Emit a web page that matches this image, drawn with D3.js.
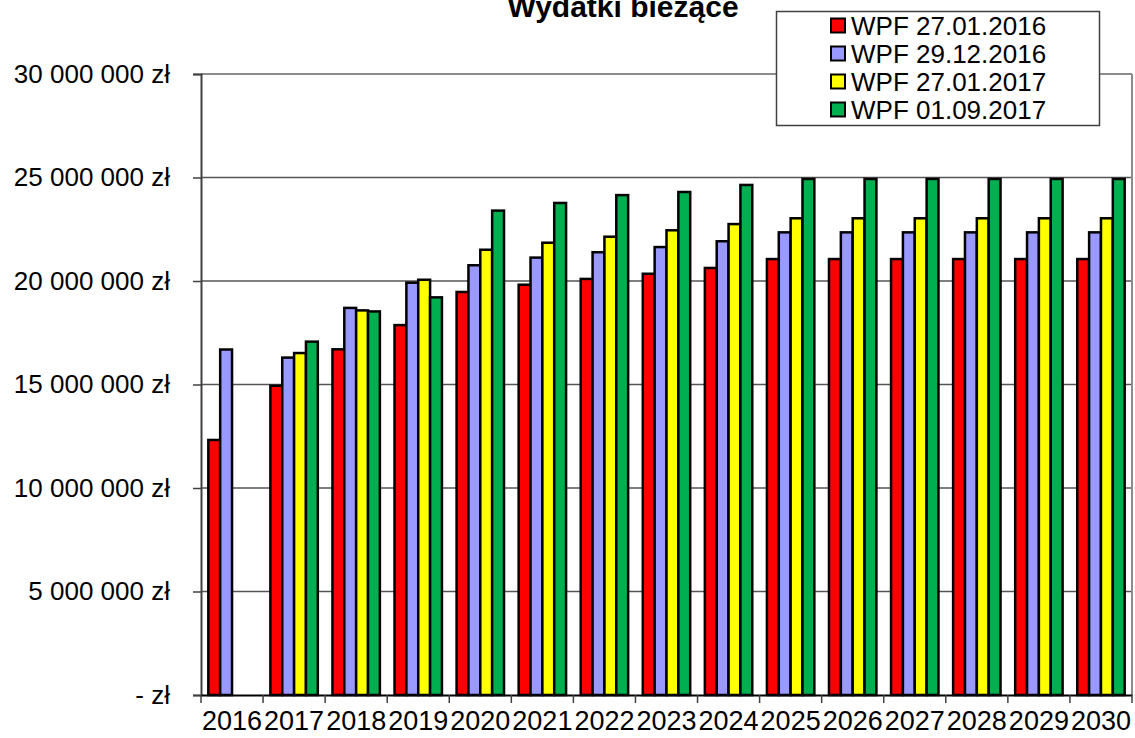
<!DOCTYPE html>
<html>
<head>
<meta charset="utf-8">
<script src="https://cdn.jsdelivr.net/npm/d3@7"></script>
<style>
  body { margin: 0; background: #fff; }
  text { font-family: "Liberation Sans", Arial, sans-serif; }
</style>
</head>
<body>
<div id="chart"></div>
<script>
// chart data
var years = ["2016","2017","2018","2019","2020","2021","2022","2023","2024","2025","2026","2027","2028","2029","2030"]
var seriesNames = ["WPF 27.01.2016", "WPF 29.12.2016", "WPF 27.01.2017", "WPF 01.09.2017"]
var seriesColors = ["#ff0000", "#9999ff", "#ffff00", "#00b050"]

var wpf_2016_01 = [12320000, 14940000, 16700000, 17870000, 19470000, 19820000, 20100000, 20350000, 20630000, 21060000, 21060000, 21060000, 21060000, 21060000, 21060000]
var wpf_2016_12 = [16690000, 16300000, 18700000, 19920000, 20760000, 21130000, 21390000, 21640000, 21920000, 22350000, 22350000, 22350000, 22350000, 22350000, 22350000]
var wpf_2017_01 = [null, 16520000, 18580000, 20060000, 21510000, 21850000, 22140000, 22450000, 22750000, 23030000, 23030000, 23030000, 23030000, 23030000, 23030000]
var wpf_2017_09 = [null, 17070000, 18530000, 19210000, 23400000, 23770000, 24150000, 24300000, 24640000, 24930000, 24930000, 24930000, 24930000, 24930000, 24930000]
var seriesValues = [wpf_2016_01, wpf_2016_12, wpf_2017_01, wpf_2017_09]

var yTicks = [0, 5000000, 10000000, 15000000, 20000000, 25000000, 30000000]

var width = 1135
    height = 738
var plot = {left: 201, right: 1132, top: 74, bottom: 695}

var svg = d3.select("#chart")
  .append("svg")
    .attr("width", width)
    .attr("height", height)

var x0 = d3.scaleBand()
  .domain(years)
  .range([plot.left, plot.right])
  .padding(0)

var bw = x0.bandwidth()
var x1 = d3.scaleBand()
  .domain(d3.range(seriesNames.length))
  .range([bw * 0.118, bw * 0.882])
  .padding(0)

var y = d3.scaleLinear()
  .domain([0, 30000000])
  .range([plot.bottom, plot.top])

var fmt = function(v){
  if (v === 0) return "- zł"
  return d3.format(",")(v).replace(/,/g, " ") + " zł"
}

// gridlines
svg.append("g")
  .selectAll("line")
  .data(yTicks.slice(1))
  .enter()
  .append("line")
    .attr("x1", plot.left)
    .attr("x2", plot.right)
    .attr("y1", d => y(d))
    .attr("y2", d => y(d))
    .attr("stroke", d => d === 30000000 ? "#8c8c8c" : "#555")
    .attr("stroke-width", d => d === 30000000 ? 2 : 1.5)

// right border
svg.append("line")
  .attr("x1", plot.right).attr("x2", plot.right)
  .attr("y1", plot.top).attr("y2", plot.bottom)
  .attr("stroke", "#8c8c8c")
  .attr("stroke-width", 2)

// bars
var groups = svg.append("g")
  .selectAll("g")
  .data(years)
  .enter()
  .append("g")
    .attr("transform", d => "translate(" + x0(d) + ",0)")

groups.selectAll("rect")
  .data((d, i) => seriesValues.map((s, k) => ({k: k, v: s[i]})).filter(e => e.v != null))
  .enter()
  .append("rect")
    .attr("x", d => x1(d.k))
    .attr("width", x1.bandwidth())
    .attr("y", d => y(d.v))
    .attr("height", d => y(0) - y(d.v))
    .attr("fill", d => seriesColors[d.k])
    .attr("stroke", "#000")
    .attr("stroke-width", 2.5)

// y axis
var yAxis = d3.axisLeft(y)
  .tickValues(yTicks)
  .tickFormat(fmt)
  .tickSize(8)
  .tickPadding(23)

var gy = svg.append("g")
  .attr("transform", "translate(" + plot.left + ",0)")
  .call(yAxis)
gy.select(".domain").attr("stroke", "#404040").attr("stroke-width", 2)
gy.selectAll(".tick line").attr("stroke", "#404040").attr("stroke-width", 1.5)
gy.selectAll(".tick text")
  .style("font-size", "26px")
  .attr("fill", "#000")
  .attr("font-family", "Liberation Sans, Arial, sans-serif")

// x axis
var gx = svg.append("g")
  .attr("transform", "translate(0," + plot.bottom + ")")
  .call(d3.axisBottom(x0).tickSize(0).tickPadding(16))
gx.select(".domain").attr("stroke", "#000").attr("stroke-width", 2)
gx.selectAll(".tick text")
  .style("font-size", "27px")
  .attr("fill", "#000")
  .attr("font-family", "Liberation Sans, Arial, sans-serif")

// tick marks between categories
svg.append("g")
  .selectAll("line")
  .data(years.concat(["end"]))
  .enter()
  .append("line")
    .attr("x1", (d, i) => plot.left + i * bw)
    .attr("x2", (d, i) => plot.left + i * bw)
    .attr("y1", plot.bottom)
    .attr("y2", plot.bottom + 8)
    .attr("stroke", "#404040")
    .attr("stroke-width", 1.5)

// title
svg.append("text")
  .attr("x", 623)
  .attr("y", 17)
  .attr("text-anchor", "middle")
  .style("font-size", "30px")
  .style("font-weight", "bold")
  .text("Wydatki bieżące")

// legend
var legend = svg.append("g")
legend.append("rect")
  .attr("x", 776.5).attr("y", 11.5)
  .attr("width", 323).attr("height", 114)
  .attr("fill", "#fff")
  .attr("stroke", "#404040")
  .attr("stroke-width", 1.5)

var items = legend.selectAll(".item")
  .data(seriesNames)
  .enter()
  .append("g")
    .attr("class", "item")
    .attr("transform", (d, i) => "translate(0," + (25.5 + i * 28) + ")")

items.append("rect")
  .attr("x", 831).attr("y", -7)
  .attr("width", 14).attr("height", 14)
  .attr("fill", (d, i) => seriesColors[i])
  .attr("stroke", "#000")
  .attr("stroke-width", 2)

items.append("text")
  .attr("x", 851)
  .attr("y", 9.5)
  .style("font-size", "26px")
  .text(d => d)
</script>
</body>
</html>
